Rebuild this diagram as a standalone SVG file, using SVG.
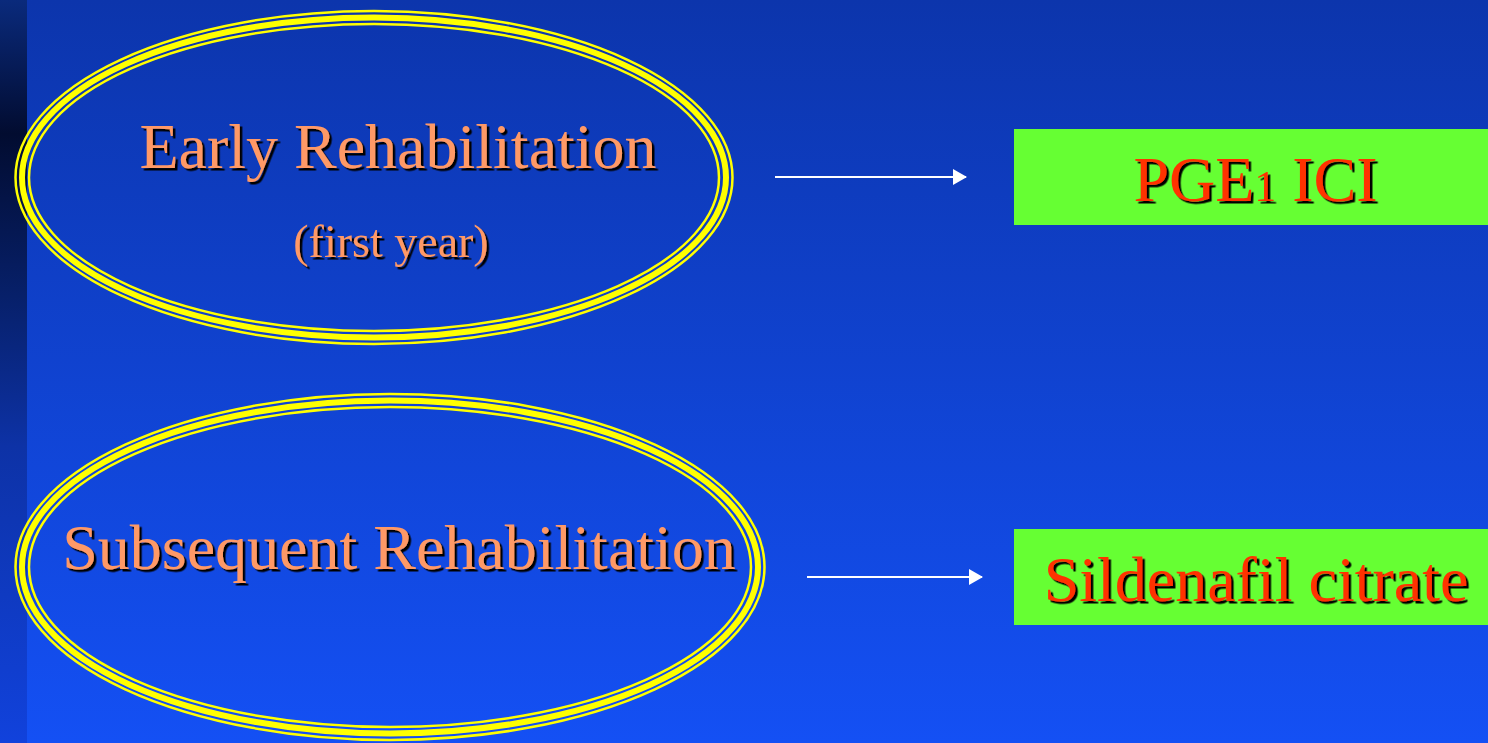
<svg xmlns="http://www.w3.org/2000/svg" width="1488" height="743" viewBox="0 0 1488 743">
  <defs>
    <linearGradient id="bg" x1="0" y1="0" x2="0" y2="1">
      <stop offset="0" stop-color="#0c35ac"/>
      <stop offset="1" stop-color="#1450f4"/>
    </linearGradient>
    <linearGradient id="strip" x1="0" y1="0" x2="0" y2="1">
      <stop offset="0" stop-color="#0a2a7c"/>
      <stop offset="0.18" stop-color="#020c30"/>
      <stop offset="0.4" stop-color="#07206a"/>
      <stop offset="0.6" stop-color="#0d32a6"/>
      <stop offset="1" stop-color="#1142dc"/>
    </linearGradient>
    <filter id="shadow" x="-5%" y="-20%" width="110%" height="140%">
      <feDropShadow dx="2.5" dy="2.5" stdDeviation="0" flood-color="#000000" flood-opacity="1"/>
    </filter>
    <marker id="arrow" markerWidth="14" markerHeight="16" refX="13" refY="8" orient="auto" markerUnits="userSpaceOnUse">
      <path d="M0,0 L14,8 L0,16 Z" fill="#ffffff"/>
    </marker>
  </defs>
  <style>
    .ring-thin { fill: none; stroke: #ffff00; stroke-width: 2.5; }
    .ring-thick { fill: none; stroke: #ffff00; stroke-width: 6; }
    .label { font-family: "Liberation Serif", "Times New Roman", serif; fill: #ff9966; filter: url(#shadow); text-anchor: middle; }
    .box { fill: #66ff33; }
    .boxtext { font-family: "Liberation Serif", "Times New Roman", serif; fill: #ff3300; filter: url(#shadow); font-size: 64px; text-anchor: middle; }
    .conn { stroke: #ffffff; stroke-width: 2; fill: none; marker-end: url(#arrow); }
  </style>

  <rect x="0" y="0" width="1488" height="743" fill="url(#bg)"/>
  <rect x="0" y="0" width="27" height="743" fill="url(#strip)"/>

  <g id="early">
    <ellipse class="ring-thin" cx="374" cy="177.5" rx="358.5" ry="166.5"/>
    <ellipse class="ring-thick" cx="374" cy="177.5" rx="352" ry="160"/>
    <ellipse class="ring-thin" cx="374" cy="177.5" rx="345" ry="153.5"/>
    <text class="label" x="398" y="168" font-size="64">Early Rehabilitation</text>
    <text class="label" x="391" y="257" font-size="46">(first year)</text>
  </g>

  <g id="subsequent">
    <ellipse class="ring-thin" cx="390" cy="567" rx="374.5" ry="173"/>
    <ellipse class="ring-thick" cx="390" cy="567" rx="368" ry="166.5"/>
    <ellipse class="ring-thin" cx="390" cy="567" rx="361" ry="160"/>
    <text class="label" x="399" y="569" font-size="64">Subsequent Rehabilitation</text>
  </g>

  <g id="pge1">
    <rect class="box" x="1014" y="129" width="474" height="96"/>
    <text class="boxtext" x="1255.5" y="201">PGE<tspan font-size="44">1</tspan> ICI</text>
  </g>

  <g id="sildenafil">
    <rect class="box" x="1014" y="529" width="474" height="96"/>
    <text class="boxtext" x="1256" y="601">Sildenafil citrate</text>
  </g>

  <g id="connectors">
    <line class="conn" x1="775" y1="177" x2="966" y2="177"/>
    <line class="conn" x1="807" y1="577" x2="982" y2="577"/>
  </g>
</svg>
